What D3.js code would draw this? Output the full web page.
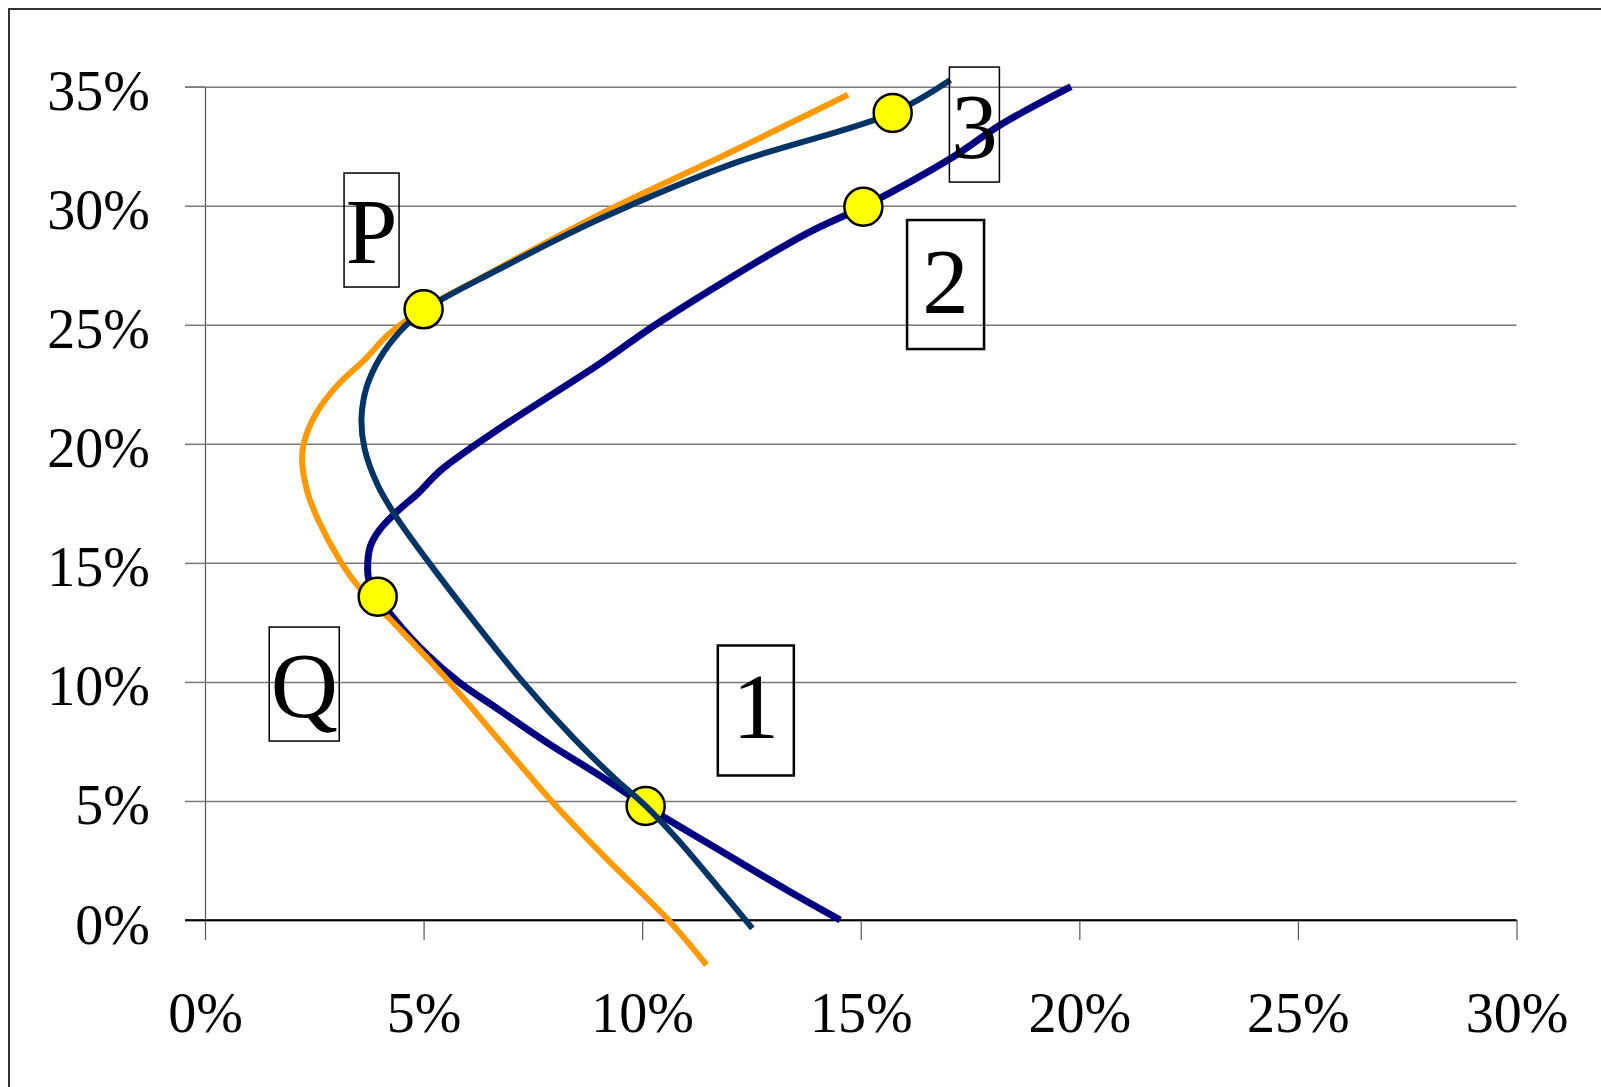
<!DOCTYPE html>
<html>
<head>
<meta charset="utf-8">
<script src="https://cdn.jsdelivr.net/npm/d3@7"></script>
<style>
  html, body { margin: 0; padding: 0; background: #fff; }
  svg { display: block; }
</style>
</head>
<body>
<svg id="chart" width="1601" height="1087"></svg>
<script>
// ---------- data (percent units) ----------
const xTicks = [0, 5, 10, 15, 20, 25, 30];
const yTicks = [0, 5, 10, 15, 20, 25, 30, 35];

// curve traced by the orange line (x %, y %)
const orangeCurve = [
  [14.71, 34.66], [12.08, 32.3], [9.04, 29.65], [6.29, 26.95], [4.98, 25.64],
  [4.2, 24.6], [3.66, 23.55], [3.05, 22.5], [2.55, 21.3], [2.27, 20.1],
  [2.22, 19.4], [2.33, 18.06], [2.59, 16.8], [3.12, 15.0], [3.51, 14.0],
  [4.25, 12.6], [5.05, 11.06], [5.61, 9.95], [6.8, 7.4], [7.95, 4.95],
  [9.2, 2.55], [10.6, 0.0], [11.47, -1.89]
];
// curve traced by the dark teal line
const tealCurve = [
  [17.05, 35.28], [15.73, 33.9], [12.09, 31.78], [9.04, 29.45], [6.69, 27.3],
  [5.0, 25.6], [4.45, 24.7], [4.0, 23.6], [3.7, 22.4], [3.58, 21.1],
  [3.65, 19.8], [3.95, 18.27], [4.35, 17.0], [5.13, 15.0], [6.19, 12.46],
  [7.27, 10.0], [8.4, 7.7], [9.34, 6.0], [10.08, 4.79], [10.8, 3.4],
  [11.5, 1.9], [12.0, 0.8], [12.52, -0.35]
];
// curve traced by the navy line
const navyCurve = [
  [19.81, 35.0], [18.19, 33.39], [17.12, 32.06], [15.06, 29.96], [13.77, 28.84],
  [10.41, 25.13], [9.04, 23.38], [6.8, 20.72], [5.4, 18.9], [4.87, 17.92],
  [4.43, 17.22], [3.99, 16.38], [3.78, 15.68], [3.72, 14.7], [3.75, 14.28],
  [3.95, 13.58], [4.35, 12.6], [5.05, 11.2], [5.84, 9.94], [6.62, 8.96],
  [7.85, 7.42], [9.07, 6.02], [10.08, 4.79], [11.64, 3.08], [13.31, 1.26],
  [14.53, 0.0]
];
// highlighted points
const markerNames = ["3", "2", "P", "Q", "1"];
const markerX = [15.73, 15.06, 5.0, 3.95, 10.08];
const markerY = [33.9, 29.96, 25.65, 13.58, 4.79];

// annotation boxes (centre in data units)
const labelTexts = ["P", "3", "2", "1", "Q"];
const labelX = [3.81, 17.6, 16.94, 12.6, 2.27];
const labelY = [28.98, 33.41, 26.69, 8.8, 9.91];

// ---------- layout ----------
const svg = d3.select("#chart");
const x = d3.scaleLinear().domain([0, 30]).range([205, 1516.5]);
const y = d3.scaleLinear().domain([0, 35]).range([920, 86.7]);
const font = "'Liberation Serif', 'Times New Roman', serif";

// outer frame
svg.append("rect").attr("x", 9).attr("y", 9).attr("width", 1700).attr("height", 1200)
  .attr("fill", "none").attr("stroke", "#333").attr("stroke-width", 2);

// horizontal gridlines + y ticks
const yAxis = d3.axisLeft(y).tickValues(yTicks).tickSize(20).tickFormat(d => d + "%");
const gy = svg.append("g").attr("transform", `translate(${x(0)},0)`).call(yAxis);
gy.select(".domain").attr("stroke", "#555").attr("stroke-width", 1.2);
gy.selectAll(".tick line").clone()
  .attr("x1", 0).attr("x2", x(30) - x(0));
gy.selectAll(".tick line").attr("stroke", "#7a7a7a").attr("stroke-width", 1.5);
gy.selectAll(".tick text")
  .attr("font-family", font).attr("font-size", 56).attr("fill", "#000")
  .attr("x", -55).attr("dy", 23);

// x axis
const xAxis = d3.axisBottom(x).tickValues(xTicks).tickSize(20).tickFormat(d => d + "%");
const gx = svg.append("g").attr("transform", `translate(0,${y(0)})`).call(xAxis);
gx.select(".domain").attr("stroke", "#000").attr("stroke-width", 1.5)
  .attr("d", `M${x(0) - 20},0.5H${x(30)}`);
gx.selectAll(".tick line").attr("stroke", "#555").attr("stroke-width", 1.2);
gx.selectAll(".tick text")
  .attr("font-family", font).attr("font-size", 56).attr("fill", "#000")
  .attr("y", 112).attr("dy", 0);

// zero line in black
svg.append("line").attr("x1", x(0) - 20).attr("x2", x(30))
  .attr("y1", y(0)).attr("y2", y(0)).attr("stroke", "#000").attr("stroke-width", 1.5);

// ---------- curves ----------
const line = d3.line().x(d => x(d[0])).y(d => y(d[1])).curve(d3.curveCatmullRom.alpha(0.5));
const markers = markerNames.map((n, i) => ({ n, x: markerX[i], y: markerY[i] }));

function drawMarkers(list) {
  svg.append("g").selectAll("circle").data(list).join("circle")
    .attr("cx", d => x(d.x)).attr("cy", d => y(d.y)).attr("r", 19)
    .attr("fill", "#FFFF00").attr("stroke", "#000").attr("stroke-width", 2.5);
}

svg.append("path").datum(navyCurve).attr("d", line)
  .attr("fill", "none").attr("stroke", "#000080").attr("stroke-width", 7)
  .attr("stroke-linejoin", "round");
svg.append("path").datum(orangeCurve).attr("d", line)
  .attr("fill", "none").attr("stroke", "#FF9900").attr("stroke-width", 6)
  .attr("stroke-linejoin", "round");
drawMarkers(markers.filter(d => d.n === "1"));
svg.append("path").datum(tealCurve).attr("d", line)
  .attr("fill", "none").attr("stroke", "#003366").attr("stroke-width", 6)
  .attr("stroke-linejoin", "round");
drawMarkers(markers.filter(d => d.n !== "1"));

// ---------- annotation boxes ----------
const boxW = { P: 55, "3": 50, "2": 77, "1": 76, Q: 70 };
const boxH = { P: 114, "3": 115, "2": 129, "1": 130, Q: 114 };
const boxSW = { P: 1.5, "3": 1.5, "2": 2.5, "1": 2.5, Q: 1.5 };
const labels = labelTexts.map((t, i) => ({ t, x: labelX[i], y: labelY[i] }));
const lg = svg.append("g").selectAll("g").data(labels).join("g")
  .attr("transform", d => `translate(${x(d.x)},${y(d.y)})`);
lg.append("rect")
  .attr("x", d => -boxW[d.t] / 2).attr("y", d => -boxH[d.t] / 2)
  .attr("width", d => boxW[d.t]).attr("height", d => boxH[d.t])
  .attr("fill", "none").attr("stroke", "#000").attr("stroke-width", d => boxSW[d.t]);
lg.append("text")
  .attr("text-anchor", "middle")
  .attr("y", d => boxH[d.t] > 120 ? 28 : 33)
  .attr("font-family", font).attr("font-size", 93).attr("fill", "#000")
  .text(d => d.t);
</script>
</body>
</html>
